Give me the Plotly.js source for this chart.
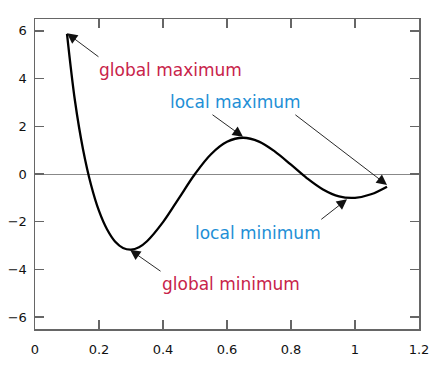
<!DOCTYPE html>
<html>
<head>
<meta charset="utf-8">
<script src="https://cdn.plot.ly/plotly-3.0.1.min.js"></script>
<style>html,body{margin:0;padding:0;background:#fff;}#chart{width:443px;height:370px;}</style>
</head>
<body>
<div id="chart"></div>
<script>
// Curve values
var xValues = [0.1, 0.125, 0.15, 0.175, 0.2, 0.225, 0.25, 0.275, 0.3, 0.325, 0.35, 0.4, 0.45, 0.5, 0.55, 0.6, 0.65, 0.7, 0.75, 0.8, 0.85, 0.9, 0.95, 1.0, 1.05, 1.1];
var yValues = [5.88, 3.06, 1.04, -0.45, -1.55, -2.32, -2.83, -3.10, -3.17, -3.07, -2.82, -2.02, -1.01, 0.0, 0.83, 1.35, 1.52, 1.36, 0.94, 0.39, -0.18, -0.65, -0.94, -1.0, -0.85, -0.53];

var xTickVals = [0, 0.2, 0.4, 0.6, 0.8, 1, 1.2];
var xTickText = ['0', '0.2', '0.4', '0.6', '0.8', '1', '1.2'];
var yTickVals = [-6, -4, -2, 0, 2, 4, 6];
var yTickText = ['\u22126', '\u22124', '\u22122', '0', '2', '4', '6'];

// Labels
var labelTexts = ['global maximum', 'local maximum', 'local minimum', 'global minimum'];
var labelX = [0.423, 0.628, 0.698, 0.6125];
var labelY = [4.37, 3.03, -2.49, -4.62];
var labelKind = ['global', 'local', 'local', 'global'];

// Arrows: tail (ax, ay) -> head (hx, hy)
var arrowTailX = [0.203, 0.55, 0.809, 0.89, 0.397];
var arrowTailY = [4.87, 2.53, 2.53, -1.95, -4.12];
var arrowHeadX = [0.1, 0.65, 1.1, 0.975, 0.297];
var arrowHeadY = [5.9, 1.56, -0.46, -1.06, -3.18];

var colors = {global: '#c8234a', local: '#1e8fd6'};
var annotations = [];
for (var i = 0; i < labelTexts.length; i++) {
  annotations.push({
    x: labelX[i], y: labelY[i], xref: 'x', yref: 'y',
    text: labelTexts[i], showarrow: false,
    font: {family: 'DejaVu Sans', size: 17, color: colors[labelKind[i]]}
  });
}
for (var j = 0; j < arrowTailX.length; j++) {
  annotations.push({
    x: arrowHeadX[j], y: arrowHeadY[j], ax: arrowTailX[j], ay: arrowTailY[j],
    xref: 'x', yref: 'y', axref: 'x', ayref: 'y',
    text: '', showarrow: true, arrowhead: 2, arrowsize: 2.3, arrowwidth: 0.9,
    arrowcolor: '#111', standoff: 0, startstandoff: 0
  });
}

var trace = {
  x: xValues, y: yValues, type: 'scatter', mode: 'lines',
  line: {color: '#000', width: 2.3, shape: 'spline', smoothing: 1},
  hoverinfo: 'none'
};

var axisCommon = {
  showgrid: false, showline: true, linecolor: '#666', linewidth: 1.5,
  mirror: 'ticks', ticks: 'inside', ticklen: 9, tickwidth: 1.2, tickcolor: '#666',
  tickfont: {family: 'DejaVu Sans', size: 13, color: '#111'}
};

var layout = {
  width: 443, height: 370,
  margin: {l: 35, r: 24, t: 19, b: 41},
  paper_bgcolor: '#fff', plot_bgcolor: '#fff',
  showlegend: false,
  xaxis: Object.assign({}, axisCommon, {
    range: [0, 1.2], tickvals: xTickVals, ticktext: xTickText,
    zeroline: false, ticklabelstandoff: 8
  }),
  yaxis: Object.assign({}, axisCommon, {
    range: [-6.5, 6.5], tickvals: yTickVals, ticktext: yTickText,
    zeroline: true, zerolinecolor: '#888', zerolinewidth: 1, ticklabelstandoff: 4
  }),
  annotations: annotations
};

Plotly.newPlot('chart', [trace], layout, {displayModeBar: false, staticPlot: true});
</script>
</body>
</html>
